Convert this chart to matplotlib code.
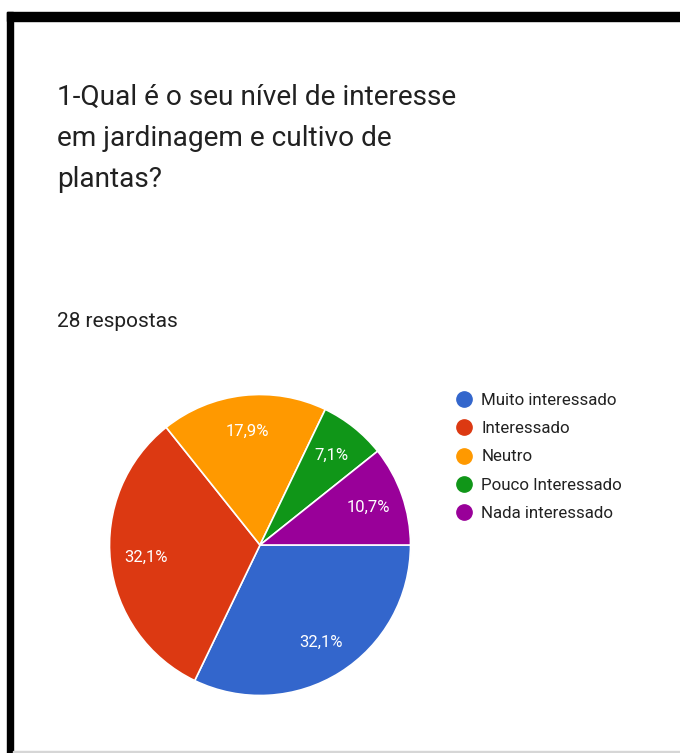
import matplotlib

matplotlib.use("Agg")
import matplotlib.pyplot as plt
from matplotlib.lines import Line2D
from matplotlib.patches import Rectangle

W, H = 680, 753
DPI = 100

title_lines = [
    "1-Qual é o seu nível de interesse",
    "em jardinagem e cultivo de",
    "plantas?",
]
subtitle = "28 respostas"
categories = [
    "Muito interessado",
    "Interessado",
    "Neutro",
    "Pouco Interessado",
    "Nada interessado",
]
counts = [9, 9, 5, 2, 3]
colors = ["#3366cc", "#dc3912", "#ff9900", "#109618", "#990099"]

plt.rcParams["font.family"] = ["Roboto", "DejaVu Sans"]


def px_box(x0, y0, w, h):
    # pixel box (top-left origin) -> figure fraction rect
    return [x0 / W, 1 - (y0 + h) / H, w / W, h / H]


fig = plt.figure(figsize=(W / DPI, H / DPI), dpi=DPI)
fig.patch.set_facecolor("white")

# frame around the card
fig.patches.append(Rectangle((7 / W, 1 - 20.5 / H), 1, 8.5 / H,
                             transform=fig.transFigure, color="black", zorder=5))
fig.patches.append(Rectangle((7 / W, 0), 6 / W, 1 - 12 / H,
                             transform=fig.transFigure, color="black", zorder=5))
fig.patches.append(Rectangle((13 / W, 0), 1, 2 / H,
                             transform=fig.transFigure, color="#d6d6d6", zorder=5))

# question text, one line per row
for i, line in enumerate(title_lines):
    fig.text(57 / W, 1 - (105 + 41 * i) / H, line, fontsize=20.2,
             color="#212121", va="baseline", ha="left")
fig.text(57 / W, 1 - 327 / H, subtitle, fontsize=15, color="#212121",
         va="baseline", ha="left")

cx, cy, r = 260, 545, 152
ax = fig.add_axes(px_box(cx - r, cy - r, 2 * r, 2 * r))
wedges, _, autotexts = ax.pie(
    counts,
    colors=colors,
    startangle=0,
    counterclock=False,
    radius=1,
    autopct=lambda p: f"{p:.1f}%".replace(".", ","),
    pctdistance=0.76,
    wedgeprops=dict(edgecolor="white", linewidth=1.2),
    textprops=dict(color="white", fontsize=12),
)
ax.set_xlim(-1.01, 1.01)
ax.set_ylim(-1.01, 1.01)
ax.set_axis_off()

handles = [
    Line2D([], [], marker="o", linestyle="", markersize=11,
           markerfacecolor=c, markeredgecolor=c)
    for c in colors
]
fig.legend(
    handles,
    categories,
    loc="upper left",
    bbox_to_anchor=(455 / W, 1 - 393 / H),
    frameon=False,
    fontsize=12.2,
    labelcolor="#222222",
    handletextpad=0.45,
    handlelength=1.1,
    labelspacing=0.78,
    borderaxespad=0,
    borderpad=0,
)

fig.savefig("out.png", dpi=DPI, facecolor="white")
